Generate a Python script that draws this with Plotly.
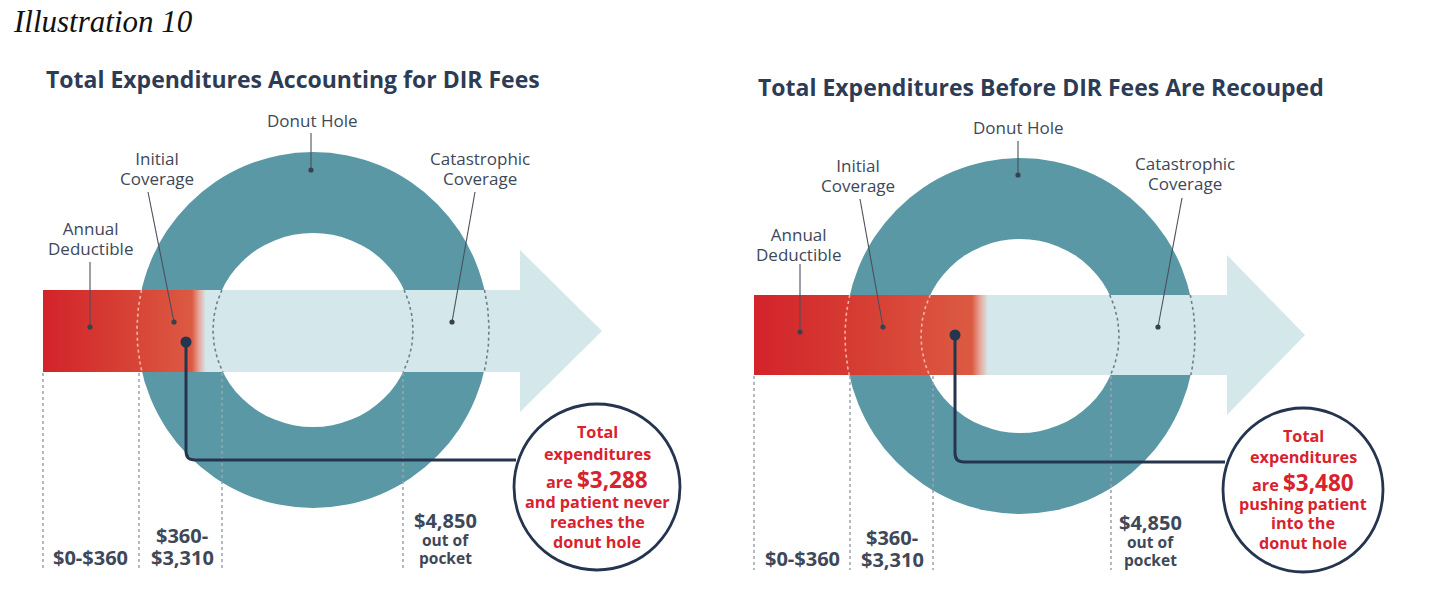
import numpy as np
import plotly.graph_objects as go

W, H = 1430, 614

# ---------------- content / data ----------------
ILLUSTRATION_LABEL = "Illustration 10"
PANEL_TITLES = ["Total Expenditures Accounting for DIR Fees",
                "Total Expenditures Before DIR Fees Are Recouped"]
PHASE_LABELS = ["Annual<br>Deductible", "Initial<br>Coverage", "Donut Hole", "Catastrophic<br>Coverage"]
RANGE_LABELS = [["$0-$360"], ["$360-", "$3,310"], ["$4,850"]]
OOP_NOTE = ["out of", "pocket"]
TOTAL_EXPENDITURES = [3288, 3480]
CALLOUT_HEAD = ["Total", "expenditures", "are "]
CALLOUT_TAILS = [["and patient never", "reaches the", "donut hole"],
                 ["pushing patient", "into the", "donut hole"]]

# ---------------- styling ----------------
TEAL = "#5a98a6"
ARROW = "#d4e8ec"
NAVY = "#25344f"
TITLE_C = "#2d3c54"
LABEL_C = "#3e4858"
RED_TXT = "#d8232e"
FONT = "Open Sans"

# ---------------- layout geometry (pixels) ----------------
PANELS = [
    dict(title=(45, 79), bar=(43, 290, 372), red_end=192, fade_end=206,
         arrow_end=520, head=(250, 412), tip=602,
         donut=(313, 330), outer=(176, 178), inner=(100, 97),
         vlines=[43, 139, 222, 403], vline_bottom=570,
         lab_pos=[(90, 238), (157, 168), (312, 120), (480, 168)],
         lead=[((90, 262), (90, 327)), ((148, 192), (174, 322)),
               ((311, 133), (311, 170)), ((475, 192), (452, 322))],
         marker=(186, 342), corner_y=460,
         callout=(597, 487, 83, 83),
         callout_ys=[432, 454, 479, 502, 522, 542],
         rng_x=[90, 182, 445], rng_ys=[[557], [535, 557], [520, 540, 558]]),
    dict(title=(757, 87), bar=(754, 295, 375), red_end=972, fade_end=988,
         arrow_end=1227, head=(255, 415), tip=1305,
         donut=(1020, 336), outer=(175, 178), inner=(99, 97),
         vlines=[754, 850, 933, 1111], vline_bottom=570,
         lab_pos=[(798, 244), (858, 175), (1018, 127), (1185, 173)],
         lead=[((800, 264), (800, 332)), ((860, 199), (883, 327)),
               ((1018, 141), (1018, 175)), ((1182, 198), (1158, 327))],
         marker=(955, 335), corner_y=462,
         callout=(1303, 490, 80, 82),
         callout_ys=[436, 457, 482, 504, 523, 543],
         rng_x=[802, 892, 1150], rng_ys=[[558], [537, 559], [522, 542, 560]]),
]

fig = go.Figure()
shapes = []
annots = []


def ann(x, y, text, size, color, weight=400, xanchor="center", family=FONT, style="normal"):
    annots.append(dict(x=x, y=y, xref="x", yref="y", text=text, showarrow=False,
                       xanchor=xanchor, yanchor="middle", align="center", borderpad=0,
                       font=dict(family=family, size=size, color=color, weight=weight, style=style)))


def span(t, px):
    return f"<span style='font-size:{px}px'>{t}</span>"


def circle(cx, cy, rx, ry, fill, line_color=None, line_w=0, layer="above"):
    shapes.append(dict(type="circle", xref="x", yref="y", x0=cx - rx, x1=cx + rx,
                       y0=cy - ry, y1=cy + ry, fillcolor=fill, layer=layer,
                       line=dict(color=line_color or fill, width=line_w)))


ann(12, 21, ILLUSTRATION_LABEL, 31, "#111111", xanchor="left",
    family="Liberation Serif", style="italic")

for i, p in enumerate(PANELS):
    bx0, by0, by1 = p["bar"]
    cx, cy = p["donut"]
    orx, ory = p["outer"]
    irx, iry = p["inner"]
    mid = (by0 + by1) / 2

    # donut ring and hole
    circle(cx, cy, orx, ory, TEAL, layer="below")
    circle(cx, cy, irx, iry, "#ffffff", layer="below")
    # light arrow
    hy0, hy1 = p["head"]
    shapes.append(dict(type="path", xref="x", yref="y", layer="below",
                       path=f"M {bx0},{by0} H {p['arrow_end']} V {hy0} L {p['tip']},{mid} "
                            f"L {p['arrow_end']},{hy1} V {by1} H {bx0} Z",
                       fillcolor=ARROW, line=dict(width=0)))

    # red gradient bar
    span_w = p["fade_end"] - bx0
    s1 = (p["red_end"] - bx0) / span_w
    fig.add_trace(go.Scatter(
        x=[bx0, p["fade_end"], p["fade_end"], bx0, bx0], y=[by0, by0, by1, by1, by0],
        mode="lines", fill="toself", line=dict(width=0), hoverinfo="skip",
        fillgradient=dict(type="horizontal",
                          colorscale=[[0, "#d3232b"], [0.45, "#d63d33"], [s1, "#dc5a42"],
                                      [min(1, s1 + (1 - s1) * 0.5), "#e7a69a"], [1, ARROW]])))

    # dashed ellipse outlines inside the bar
    ys = np.linspace(by0, by1, 40)
    for rx, ry in ((orx, ory), (irx, iry)):
        for side in (-1, 1):
            xs = cx + side * rx * np.sqrt(np.clip(1 - ((ys - cy) / ry) ** 2, 0, None))
            col = "rgba(245,200,185,0.85)" if xs.mean() < p["red_end"] else "#6f7f8a"
            fig.add_trace(go.Scatter(x=xs, y=ys, mode="lines", hoverinfo="skip",
                                     line=dict(color=col, width=1.6, dash="dot")))

    # vertical dotted separators
    for vx in p["vlines"]:
        shapes.append(dict(type="line", xref="x", yref="y", x0=vx, x1=vx, y0=by1 + 1,
                           y1=p["vline_bottom"], layer="above",
                           line=dict(color="#9aa3ac", width=1.5, dash="dot")))

    # phase labels with leader lines
    for (lx, ly), lab, ((ax0, ay0), (ax1, ay1)) in zip(p["lab_pos"], PHASE_LABELS, p["lead"]):
        txt = "<br>".join(span(t, 17) for t in lab.split("<br>"))
        ann(lx, ly, txt, 15.2, LABEL_C)
        shapes.append(dict(type="line", xref="x", yref="y", x0=ax0, y0=ay0, x1=ax1, y1=ay1,
                           layer="above", line=dict(color="#4a505c", width=1.1)))
        circle(ax1, ay1, 2.6, 2.6, "#3a414d")

    # navy connector to callout
    mx, my = p["marker"]
    ccx, ccy, crx, cry = p["callout"]
    r = 9
    cyl = p["corner_y"]
    shapes.append(dict(type="path", xref="x", yref="y", layer="above",
                       path=f"M {mx},{my} V {cyl - r} Q {mx},{cyl} {mx + r},{cyl} H {ccx - crx + 2}",
                       line=dict(color=NAVY, width=3)))
    circle(mx, my, 5.5, 5.5, NAVY)
    circle(ccx, ccy, crx, cry, "#ffffff", line_color=NAVY, line_w=2.8)

    total_txt = f"${TOTAL_EXPENDITURES[i]:,}"
    lines = [CALLOUT_HEAD[0], CALLOUT_HEAD[1], CALLOUT_HEAD[2] + span(total_txt, 22.5)] + CALLOUT_TAILS[i]
    for ty, t in zip(p["callout_ys"], lines):
        ann(ccx, ty, t, 16.2, RED_TXT, weight=700)

    # bottom range labels
    for k, (rx_, rys) in enumerate(zip(p["rng_x"], p["rng_ys"])):
        texts = RANGE_LABELS[k] + (OOP_NOTE if k == 2 else [])
        for j, (ty, t) in enumerate(zip(rys, texts)):
            size = 20 if j == 0 or k < 2 else 15.5
            ann(rx_, ty, t, size, LABEL_C, weight=700)

    # panel title
    tx, ty = p["title"]
    ann(tx, ty, PANEL_TITLES[i], 23, TITLE_C, weight=700, xanchor="left")

fig.update_layout(
    width=W, height=H, margin=dict(l=0, r=0, t=0, b=0),
    paper_bgcolor="#ffffff", plot_bgcolor="#ffffff", showlegend=False,
    xaxis=dict(range=[0, W], visible=False, fixedrange=True),
    yaxis=dict(range=[H, 0], visible=False, fixedrange=True),
    shapes=shapes, annotations=annots,
)
fig.write_html("out.html", config=dict(displayModeBar=False, staticPlot=True),
               post_script="document.body.style.margin='0px';")
